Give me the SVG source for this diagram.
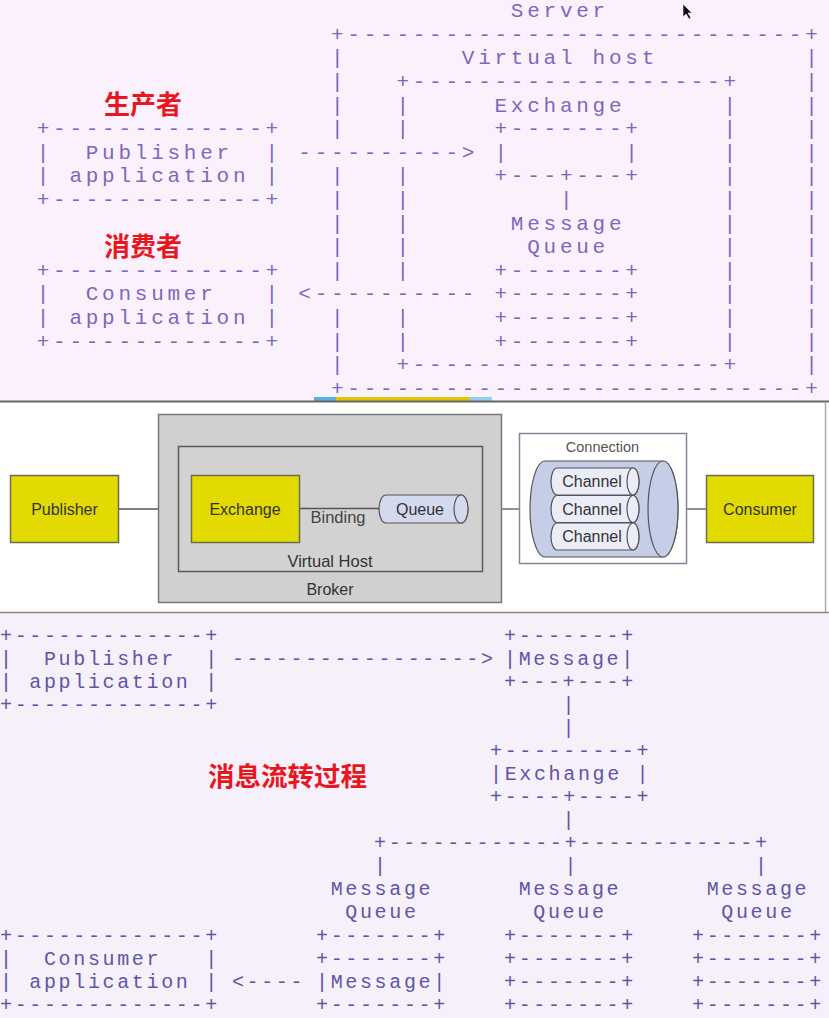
<svg xmlns="http://www.w3.org/2000/svg" width="829" height="1018" viewBox="0 0 829 1018" xml:space="preserve">
<style>
text{white-space:pre}
.t{font-family:"Liberation Mono",monospace;font-size:21px;letter-spacing:3.75px;fill:#7b68bd}
.b{font-family:"Liberation Mono",monospace;font-size:20px;letter-spacing:2.65px;fill:#5e56a6}
.cn{font-family:"Noto Sans CJK SC","Noto Sans",sans-serif;font-weight:bold;font-size:26px;fill:#e8161e}
.s{font-family:"Liberation Sans",Arial,sans-serif;font-size:16px;fill:#333}
.yb{fill:#e2da00;stroke:#6e6e4e;stroke-width:1.5}
.ln{stroke:#555;stroke-width:1.3;fill:none}
.pill{stroke:#555;stroke-width:1.2}
</style>
<rect x="0" y="0" width="829" height="401" fill="#fbf1fc"/>
<rect x="0" y="613" width="829" height="405" fill="#f6f0fa"/>
<rect x="314" y="397" width="22" height="5" fill="#5ab0e0"/>
<rect x="336" y="397" width="134" height="5" fill="#e0c800"/>
<rect x="470" y="397" width="22" height="5" fill="#8fd0f0"/>
<rect x="0" y="401" width="826" height="212" fill="#ffffff"/>
<line x1="0" y1="401.5" x2="829" y2="401.5" stroke="#666" stroke-width="2"/>
<line x1="825.5" y1="402" x2="825.5" y2="613" stroke="#aaa" stroke-width="1.5"/>
<line x1="0" y1="612.5" x2="829" y2="612.5" stroke="#888" stroke-width="1.5"/>
<path d="M683 4 L683 17 L686 14 L689 19 L691 18 L688 13 L692 13 Z" fill="#111" stroke="#fff" stroke-width="0.6"/>
<path d="M218 588 L218 594 L219.5 592.5 L221 595 L222 594.5 L220.7 592 L222.5 592 Z" fill="#222"/>

<g id="server">
<text class="t" x="510.85" y="17">Server</text>
<text class="t" x="331" y="40.6">+----------------------------+</text>
<text class="t"><tspan x="331" y="64.2">|</tspan><tspan x="331" y="87.9">|</tspan><tspan x="331" y="111.5">|</tspan><tspan x="331" y="135.1">|</tspan><tspan x="331" y="182.3">|</tspan><tspan x="331" y="206">|</tspan><tspan x="331" y="229.6">|</tspan><tspan x="331" y="253.2">|</tspan><tspan x="331" y="276.8">|</tspan><tspan x="331" y="324.1">|</tspan><tspan x="331" y="347.7">|</tspan><tspan x="331" y="371.3">|</tspan></text>
<text class="t"><tspan x="805.15" y="64.2">|</tspan><tspan x="805.15" y="87.9">|</tspan><tspan x="805.15" y="111.5">|</tspan><tspan x="805.15" y="135.1">|</tspan><tspan x="805.15" y="158.7">|</tspan><tspan x="805.15" y="182.3">|</tspan><tspan x="805.15" y="206">|</tspan><tspan x="805.15" y="229.6">|</tspan><tspan x="805.15" y="253.2">|</tspan><tspan x="805.15" y="276.8">|</tspan><tspan x="805.15" y="300.4">|</tspan><tspan x="805.15" y="324.1">|</tspan><tspan x="805.15" y="347.7">|</tspan><tspan x="805.15" y="371.3">|</tspan></text>
<text class="t" x="331" y="394.9">+----------------------------+</text>
</g>
<g id="virtual-host">
<text class="t" x="461.8" y="64.2">Virtual host</text>
<text class="t" x="396.4" y="87.9">+-------------------+</text>
<text class="t"><tspan x="396.4" y="111.5">|</tspan><tspan x="396.4" y="135.1">|</tspan><tspan x="396.4" y="182.3">|</tspan><tspan x="396.4" y="206">|</tspan><tspan x="396.4" y="229.6">|</tspan><tspan x="396.4" y="253.2">|</tspan><tspan x="396.4" y="276.8">|</tspan><tspan x="396.4" y="324.1">|</tspan><tspan x="396.4" y="347.7">|</tspan></text>
<text class="t"><tspan x="723.4" y="111.5">|</tspan><tspan x="723.4" y="135.1">|</tspan><tspan x="723.4" y="158.7">|</tspan><tspan x="723.4" y="182.3">|</tspan><tspan x="723.4" y="206">|</tspan><tspan x="723.4" y="229.6">|</tspan><tspan x="723.4" y="253.2">|</tspan><tspan x="723.4" y="276.8">|</tspan><tspan x="723.4" y="300.4">|</tspan><tspan x="723.4" y="324.1">|</tspan><tspan x="723.4" y="347.7">|</tspan></text>
<text class="t" x="396.4" y="371.3">+-------------------+</text>
</g>
<g id="exchange-top">
<text class="t" x="494.5" y="111.5">Exchange</text>
<text class="t" x="494.5" y="135.1">+-------+</text>
<text class="t" x="494.5" y="158.7">|       |</text>
<text class="t" x="494.5" y="182.3">+---+---+</text>
</g>
<g id="queue-top">
<text class="t" x="510.85" y="229.6">Message</text>
<text class="t" x="527.2" y="253.2">Queue</text>
<text class="t" x="494.5" y="276.8">+-------+</text>
<text class="t" x="494.5" y="300.4">+-------+</text>
<text class="t" x="494.5" y="324.1">+-------+</text>
<text class="t" x="494.5" y="347.7">+-------+</text>
</g>
<g id="publisher-top">
<text class="cn" x="104" y="114">生产者</text>
<text class="t" x="36.7" y="135.1">+-------------+</text>
<text class="t" x="36.7" y="158.7">|  Publisher  |</text>
<text class="t" x="36.7" y="182.3">| application |</text>
<text class="t" x="36.7" y="206">+-------------+</text>
</g>
<g id="consumer-top">
<text class="cn" x="104" y="256">消费者</text>
<text class="t" x="36.7" y="276.8">+-------------+</text>
<text class="t" x="36.7" y="300.4">|  Consumer   |</text>
<text class="t" x="36.7" y="324.1">| application |</text>
<text class="t" x="36.7" y="347.7">+-------------+</text>
</g>
<g id="connectors-top">
<text class="t" x="298.3" y="158.7">----------&gt;</text>
<text class="t" x="298.3" y="300.4">&lt;----------</text>
<text class="t" x="559.9" y="206">|</text>
</g>

<g id="connectors-mid">
<line class="ln" x1="118" y1="509" x2="191" y2="509"/>
<line class="ln" x1="501" y1="509" x2="531" y2="509"/>
<line class="ln" x1="677" y1="509" x2="706" y2="509"/>
</g>
<g id="broker">
<rect x="158.5" y="414.5" width="343" height="188" fill="#d0d0d0" stroke="#777" stroke-width="1.5"/>
<text class="s" x="330" y="595" text-anchor="middle">Broker</text>
</g>
<g id="vhost-mid">
<rect x="178.5" y="446.5" width="304" height="125" fill="#d2d2d2" stroke="#5a5a5a" stroke-width="1.5"/>
<text class="s" x="330" y="567" text-anchor="middle" style="font-size:16.5px">Virtual Host</text>
</g>
<g id="binding">
<line class="ln" x1="299" y1="508.5" x2="380" y2="508.5"/>
<text class="s" x="338" y="523" text-anchor="middle" style="font-size:16.5px;fill:#444">Binding</text>
</g>
<g id="publisher-mid">
<rect class="yb" x="10.5" y="475.5" width="108" height="67"/>
<text class="s" x="64.5" y="515" text-anchor="middle">Publisher</text>
</g>
<g id="exchange-mid">
<rect class="yb" x="191.5" y="475.5" width="108" height="67"/>
<text class="s" x="245" y="515" text-anchor="middle">Exchange</text>
</g>
<g id="queue-mid">
<path class="pill" d="M386 495 L461 495 A7 14 0 0 1 461 523 L386 523 A7 14 0 0 1 386 495 Z" fill="#d3daef"/>
<ellipse class="pill" cx="461" cy="509" rx="7" ry="14" fill="#d3daef"/>
<text class="s" x="420" y="515" text-anchor="middle">Queue</text>
</g>
<g id="connection">
<rect x="519.5" y="433.5" width="167" height="130" fill="#fff" stroke="#8a8298" stroke-width="1.5"/>
<text class="s" x="602.5" y="452" text-anchor="middle" style="font-size:14.5px;fill:#555">Connection</text>
<path class="pill" d="M545 461 L663 461 A15 48 0 0 1 663 557 L545 557 A15 48 0 0 1 545 461 Z" fill="#c6cee7"/>
<ellipse class="pill" cx="663" cy="509" rx="15" ry="48" fill="#c6cee7"/>
</g>
<g id="channel-1">
<path class="pill" d="M557 468 L633 468 A6 13.5 0 0 1 633 495 L557 495 A6 13.5 0 0 1 557 468 Z" fill="#eaedf7"/>
<ellipse class="pill" cx="633" cy="481.5" rx="6" ry="13.5" fill="#eaedf7"/>
<text class="s" x="592" y="487" text-anchor="middle">Channel</text>
</g>
<g id="channel-2">
<path class="pill" d="M557 495.5 L633 495.5 A6 13.5 0 0 1 633 522.5 L557 522.5 A6 13.5 0 0 1 557 495.5 Z" fill="#eaedf7"/>
<ellipse class="pill" cx="633" cy="509" rx="6" ry="13.5" fill="#eaedf7"/>
<text class="s" x="592" y="514.5" text-anchor="middle">Channel</text>
</g>
<g id="channel-3">
<path class="pill" d="M557 523 L633 523 A6 13.5 0 0 1 633 550 L557 550 A6 13.5 0 0 1 557 523 Z" fill="#eaedf7"/>
<ellipse class="pill" cx="633" cy="536.5" rx="6" ry="13.5" fill="#eaedf7"/>
<text class="s" x="592" y="542" text-anchor="middle">Channel</text>
</g>
<g id="consumer-mid">
<rect class="yb" x="706.5" y="475.5" width="107" height="67"/>
<text class="s" x="760" y="515" text-anchor="middle">Consumer</text>
</g>

<g id="publisher-bottom">
<text class="b" x="0" y="641.7">+-------------+</text>
<text class="b" x="0" y="664.8">|  Publisher  |</text>
<text class="b" x="0" y="687.8">| application |</text>
<text class="b" x="0" y="710.9">+-------------+</text>
</g>
<g id="message-bottom">
<text class="b" x="504" y="641.7">+-------+</text>
<text class="b" x="504" y="664.8">|Message|</text>
<text class="b" x="504" y="687.8">+---+---+</text>
</g>
<g id="exchange-bottom">
<text class="b" x="490" y="757">+---------+</text>
<text class="b" x="490" y="780.1">|Exchange |</text>
<text class="b" x="490" y="803.1">+----+----+</text>
</g>
<text class="cn" x="208" y="786" style="font-size:26.5px">消息流转过程</text>
<g id="queue-bottom-1">
<text class="b" x="330.65" y="895.4">Message</text>
<text class="b" x="345.3" y="918.4">Queue</text>
<text class="b" x="316" y="941.5">+-------+</text>
<text class="b" x="316" y="964.5">+-------+</text>
<text class="b" x="316" y="987.6">|Message|</text>
<text class="b" x="316" y="1010.7">+-------+</text>
</g>
<g id="queue-bottom-2">
<text class="b" x="518.65" y="895.4">Message</text>
<text class="b" x="533.3" y="918.4">Queue</text>
<text class="b" x="504" y="941.5">+-------+</text>
<text class="b" x="504" y="964.5">+-------+</text>
<text class="b" x="504" y="987.6">+-------+</text>
<text class="b" x="504" y="1010.7">+-------+</text>
</g>
<g id="queue-bottom-3">
<text class="b" x="706.65" y="895.4">Message</text>
<text class="b" x="721.3" y="918.4">Queue</text>
<text class="b" x="692" y="941.5">+-------+</text>
<text class="b" x="692" y="964.5">+-------+</text>
<text class="b" x="692" y="987.6">+-------+</text>
<text class="b" x="692" y="1010.7">+-------+</text>
</g>
<g id="consumer-bottom">
<text class="b" x="0" y="941.5">+-------------+</text>
<text class="b" x="0" y="964.5">|  Consumer   |</text>
<text class="b" x="0" y="987.6">| application |</text>
<text class="b" x="0" y="1010.7">+-------------+</text>
</g>
<g id="connectors-bottom">
<text class="b" x="231.9" y="664.8">-----------------&gt;</text>
<text class="b" x="562.6" y="710.9">|</text>
<text class="b" x="562.6" y="733.9">|</text>
<text class="b" x="562.6" y="826.2">|</text>
<text class="b" x="374" y="849.2">+------------+------------+</text>
<text class="b" x="374" y="872.3">|            |            |</text>
<text class="b" x="231.9" y="987.6">&lt;----</text>
</g>
</svg>
